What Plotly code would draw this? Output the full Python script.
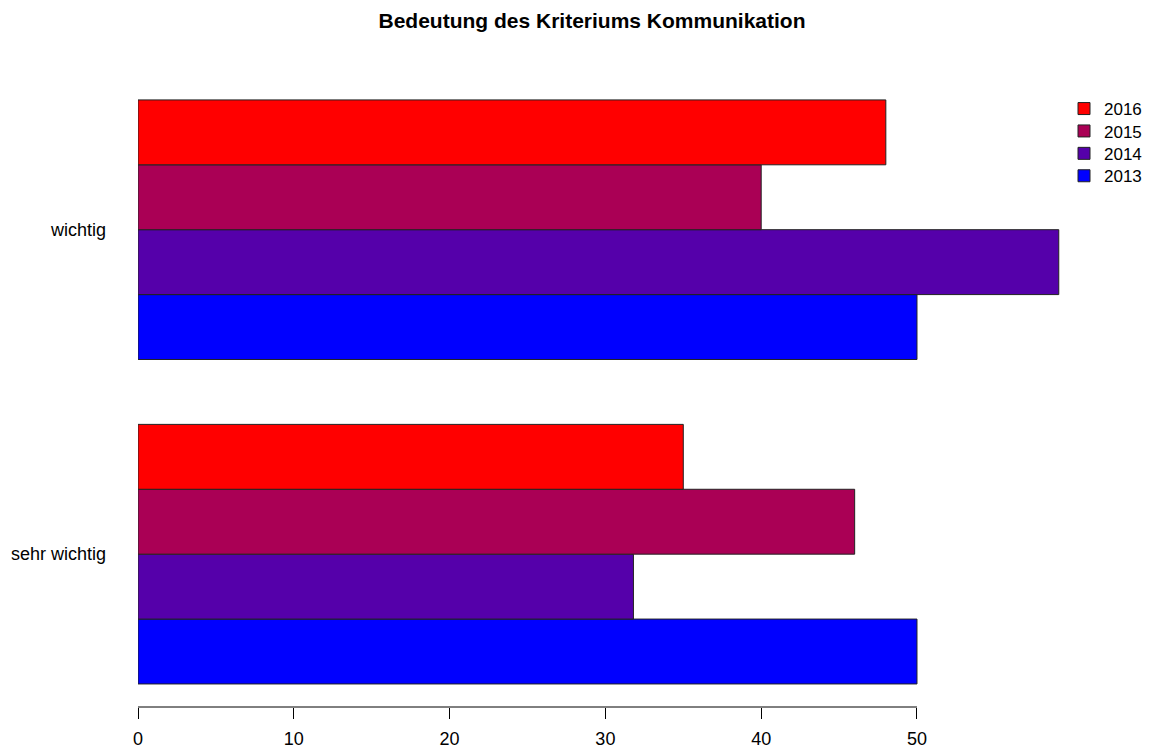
import plotly.graph_objects as go

# Bedeutung des Kriteriums Kommunikation (R barplot, horiz, beside)
categories = ["sehr wichtig", "wichtig"]
years = ["2013", "2014", "2015", "2016"]
values = {
    "2013": [50, 50],
    "2014": [31.8, 59.1],
    "2015": [46, 40],
    "2016": [35, 48],
}
colors = {"2013": "#0000FF", "2014": "#5500AA", "2015": "#AA0055", "2016": "#FF0000"}
xticks = [0, 10, 20, 30, 40, 50]

# page body has an 8px margin, so the figure is drawn 8px smaller
W, H = 1142, 741
fnt = "Liberation Sans, Arial, Helvetica, sans-serif"

fig = go.Figure()
legends = {}
for i, yr in enumerate(years):
    lg = "legend" if i == 0 else "legend%d" % (i + 1)
    fig.add_trace(go.Bar(
        y=categories, x=values[yr], orientation="h", name=yr, legend=lg,
        marker=dict(color=colors[yr], line=dict(color="#222222", width=1)),
    ))
    # R legend: newest year on top, rows about 22px apart
    row = len(years) - 1 - i
    legends[lg] = dict(xref="container", yref="container",
                       x=1056 / W, y=1 - (101 + 22.4 * row) / H,
                       xanchor="left", yanchor="middle",
                       font=dict(size=17), itemwidth=30,
                       bgcolor="rgba(0,0,0,0)")

fig.update_layout(
    width=W, height=H,
    barmode="group", bargap=0.2, bargroupgap=0,
    plot_bgcolor="white", paper_bgcolor="white",
    margin=dict(l=130, r=85, t=52, b=42, autoexpand=False),
    font=dict(family=fnt, size=18, color="black"),
    title=dict(text="<b>Bedeutung des Kriteriums Kommunikation</b>",
               xref="container", x=584 / W, xanchor="center",
               yref="container", y=1 - 13 / H, yanchor="middle",
               font=dict(size=21, family=fnt, color="black")),
    showlegend=True,
    **legends,
)

fig.update_xaxes(range=[0, 59.5], tickvals=xticks, ticks="outside", ticklen=11,
                 tickcolor="black", showline=False, showgrid=False, zeroline=False,
                 automargin=False, ticklabelstandoff=4, tickfont=dict(size=18))
fig.update_yaxes(range=[-0.471, 1.523], showgrid=False, zeroline=False, showline=False,
                 automargin=False, ticks="", ticklabelstandoff=31, tickfont=dict(size=18))

# R style axis line from first to last tick
fig.add_shape(type="line", xref="x", yref="paper", x0=xticks[0], x1=xticks[-1],
              y0=0, y1=0, line=dict(color="black", width=1))

fig.write_html("out.html")
